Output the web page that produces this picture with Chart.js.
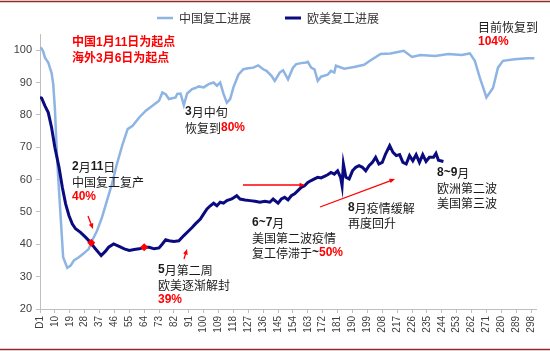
<!DOCTYPE html>
<html>
<head>
<meta charset="utf-8">
<script src="https://cdn.jsdelivr.net/npm/chart.js@4/dist/chart.umd.min.js"></script>
<style>
  html, body { margin: 0; padding: 0; background: #ffffff; }
  #wrap { width: 550px; height: 351px; position: relative; }
</style>
</head>
<body>
<div id="wrap"><canvas id="c" width="550" height="351"></canvas></div>
<script>
// ---- data ----
const seriesNames = ['中国复工进展', '欧美复工进展'];

const chinaDays = [1, 2, 3, 4, 6, 7, 8, 9, 10, 11.5, 13.5, 15, 17.5, 19.5, 21.5, 24.5, 27.5, 30.5, 32.5, 35.5,
  38.5, 41.5, 44.5, 47.5, 51, 54, 57, 61, 65, 69, 73, 75, 77, 79, 83, 84, 86, 88, 90, 93,
  95, 97, 100, 103, 106, 108, 110, 112, 114, 116, 118, 121, 124, 127, 130, 133, 136, 138, 141, 143,
  146, 148, 151, 154, 156, 159, 162, 163, 165, 167, 169, 171, 175, 177, 179, 180, 185, 191, 197, 201,
  207, 213, 221, 226, 231, 240, 248, 256, 261, 264, 267, 269, 271, 275, 278, 281, 288, 296, 300];
const chinaVals = [100.8, 100.5, 99.5, 97.7, 96.2, 94.5, 93.0, 89.5, 82.0, 65.0, 48.3, 36.0, 32.7, 33.4, 35.0, 36.0, 37.2, 38.6, 41.1, 44.2,
  48.3, 53.5, 58.6, 64.8, 71.0, 75.6, 76.6, 79.2, 81.3, 82.8, 84.4, 86.9, 86.4, 84.9, 85.4, 86.5, 86.6, 83.0, 86.6, 88.0,
  88.3, 88.8, 88.5, 89.5, 90.0, 89.0, 90.0, 86.5, 83.8, 84.9, 88.5, 92.4, 94.1, 94.4, 94.6, 95.3, 94.1, 93.6, 92.1, 90.5,
  93.1, 93.8, 91.0, 94.6, 95.7, 96.0, 96.2, 96.4, 94.6, 94.1, 90.5, 91.8, 92.4, 93.6, 93.1, 95.2, 94.3, 94.8, 95.5, 96.9,
  98.8, 99.0, 99.8, 97.9, 98.5, 98.2, 98.8, 98.5, 99.0, 96.7, 91.5, 88.5, 85.4, 88.3, 94.6, 96.7, 97.2, 97.5, 97.5];

const euDays = [1, 2, 4, 6, 8, 10, 12.5, 14.5, 16.5, 18.5, 20.5, 22.5, 25.5, 28.5, 31.5, 34.5, 38, 40.5, 42.5, 45.5,
  48.5, 52, 55, 58, 61, 64, 67, 70, 73, 75, 77, 79, 82, 85, 88, 91, 93, 95, 98, 100,
  102, 104, 106, 108, 110, 112, 114, 117, 120, 122, 125, 128, 131, 134, 137, 140, 142, 145, 147, 149,
  151, 153, 155, 157, 159, 161, 163, 165, 167, 169, 171, 173, 175, 177, 179, 181, 182.8, 183.7, 184.5, 186,
  188, 190, 192, 194, 196, 198, 200, 202, 204, 206, 208, 210, 212.5, 214.5, 216.5, 218.5, 220.5, 222.5, 224.5, 226.5,
  228.5, 230.5, 232.5, 234.5, 236.5, 239, 240.5, 242, 245];
const euVals = [85.4, 85.2, 82.8, 80.7, 76.1, 69.9, 63.8, 57.6, 52.5, 48.9, 46.3, 44.8, 43.7, 42.2, 40.6, 38.6, 36.5, 37.8, 39.1, 40.1,
  39.4, 38.6, 38.1, 38.4, 38.6, 39.1, 39.1, 38.6, 38.9, 40.1, 41.4, 41.1, 40.9, 41.1, 42.7, 44.2, 45.2, 46.3, 47.8, 49.4,
  50.9, 51.9, 52.7, 51.9, 53.0, 52.7, 53.5, 54.0, 55.0, 54.0, 53.7, 53.5, 53.3, 53.0, 53.3, 53.0, 54.0, 52.7, 54.0, 54.5,
  53.7, 55.0, 55.6, 56.6, 57.6, 58.1, 59.1, 59.7, 60.2, 60.7, 60.5, 61.0, 61.5, 62.2, 61.7, 62.7, 60.7, 58.1, 64.8, 60.7,
  60.2, 62.7, 63.8, 64.3, 63.8, 62.7, 64.3, 65.3, 66.9, 64.8, 65.3, 67.9, 70.5, 68.4, 67.4, 67.7, 65.3, 64.8, 67.4, 65.8,
  67.7, 65.3, 67.7, 65.6, 66.9, 66.9, 68.1, 66.0, 65.6];

const markDays = [32, 64];
const markVals = [40.5, 39.1];

const xTickVals = [1, 10, 19, 28, 37, 46, 55, 64, 73, 82, 91, 100, 109, 118, 127, 136, 145, 154, 163, 172,
  181, 190, 199, 208, 217, 226, 235, 244, 253, 262, 271, 280, 289, 298];
const yTickVals = [20, 30, 40, 50, 60, 70, 80, 90, 100];

// ---- styles ----
const C_CHINA = '#8DB4E2';
const C_EU = '#0B0B80';
const RED = '#FF0000';
const TXT = '#1A1A1A';
const AXIS = '#BFBFBF';
const CJK = '"Noto Sans CJK SC"';
const F_REG = '12px ' + CJK;
const F_NUM = 'bold 12px "Liberation Sans", ' + CJK;
const F_RED = 'bold 12px "Liberation Sans", ' + CJK;

function toXY(xs, ys) { return xs.map((d, i) => ({ x: d, y: ys[i] })); }

function rich(ctx, x, y, parts) {
  let cx = x;
  for (const [t, f, c] of parts) {
    ctx.font = f; ctx.fillStyle = c;
    ctx.fillText(t, cx, y);
    cx += ctx.measureText(t).width;
  }
}
function arrow(ctx, x1, y1, x2, y2) {
  const a = Math.atan2(y2 - y1, x2 - x1), h = 6;
  ctx.strokeStyle = RED; ctx.fillStyle = RED; ctx.lineWidth = 1.3;
  ctx.beginPath(); ctx.moveTo(x1, y1); ctx.lineTo(x2 - Math.cos(a) * 3, y2 - Math.sin(a) * 3); ctx.stroke();
  ctx.beginPath();
  ctx.moveTo(x2, y2);
  ctx.lineTo(x2 - h * Math.cos(a - 0.4), y2 - h * Math.sin(a - 0.4));
  ctx.lineTo(x2 - h * Math.cos(a + 0.4), y2 - h * Math.sin(a + 0.4));
  ctx.closePath(); ctx.fill();
}

const decor = {
  id: 'decor',
  beforeDraw(chart) {
    const ctx = chart.ctx;
    ctx.save(); ctx.fillStyle = '#ffffff'; ctx.fillRect(0, 0, chart.width, chart.height); ctx.restore();
  },
  afterDraw(chart) {
    const ctx = chart.ctx;
    ctx.save();
    // frame lines
    ctx.strokeStyle = '#8E2B2B'; ctx.lineWidth = 1.5;
    ctx.beginPath(); ctx.moveTo(0, 1.5); ctx.lineTo(chart.width, 1.5); ctx.stroke();
    ctx.beginPath(); ctx.moveTo(0, 349.5); ctx.lineTo(chart.width, 349.5); ctx.stroke();

    ctx.textBaseline = 'middle'; ctx.textAlign = 'left';
    rich(ctx, 72, 43, [['中国1月11日为起点', F_RED, RED]]);
    rich(ctx, 72, 59, [['海外3月6日为起点', F_RED, RED]]);

    rich(ctx, 185, 112, [['3', F_NUM, TXT], ['月中旬', F_REG, TXT]]);
    rich(ctx, 185, 128, [['恢复到', F_REG, TXT], ['80%', F_RED, RED]]);

    rich(ctx, 72, 167, [['2', F_NUM, TXT], ['月', F_REG, TXT], ['11', F_NUM, TXT], ['日', F_REG, TXT]]);
    rich(ctx, 72, 182, [['中国复工复产', F_REG, TXT]]);
    rich(ctx, 72, 197, [['40%', F_RED, RED]]);

    rich(ctx, 158, 270, [['5', F_NUM, TXT], ['月第二周', F_REG, TXT]]);
    rich(ctx, 158, 285, [['欧美逐渐解封', F_REG, TXT]]);
    rich(ctx, 158, 300, [['39%', F_RED, RED]]);

    rich(ctx, 252, 223, [['6~7', F_NUM, TXT], ['月', F_REG, TXT]]);
    rich(ctx, 252, 238, [['美国第二波疫情', F_REG, TXT]]);
    rich(ctx, 252, 253, [['复工停滞于', F_REG, TXT], ['~', F_NUM, TXT], ['50%', F_RED, RED]]);

    rich(ctx, 348, 208, [['8', F_NUM, TXT], ['月疫情缓解', F_REG, TXT]]);
    rich(ctx, 348, 223, [['再度回升', F_REG, TXT]]);

    rich(ctx, 437, 173, [['8~9', F_NUM, TXT], ['月', F_REG, TXT]]);
    rich(ctx, 437, 188, [['欧洲第二波', F_REG, TXT]]);
    rich(ctx, 437, 203, [['美国第三波', F_REG, TXT]]);

    rich(ctx, 478, 27, [['目前恢复到', F_REG, TXT]]);
    rich(ctx, 478, 42, [['104%', F_RED, RED]]);

    arrow(ctx, 88, 216, 93, 229);
    arrow(ctx, 184, 259, 187, 249);
    arrow(ctx, 243, 185, 305, 185);
    arrow(ctx, 320, 207, 395, 179);
    ctx.restore();
  }
};

new Chart(document.getElementById('c'), {
  type: 'line',
  data: {
    datasets: [
      { label: seriesNames[0], data: toXY(chinaDays, chinaVals), borderColor: C_CHINA, backgroundColor: C_CHINA,
        borderWidth: 2.5, pointRadius: 0, tension: 0, order: 2 },
      { label: seriesNames[1], data: toXY(euDays, euVals), borderColor: C_EU, backgroundColor: C_EU,
        borderWidth: 3, pointRadius: 0, tension: 0, order: 1 },
      { label: 'marks', data: toXY(markDays, markVals), showLine: false, pointStyle: 'rectRot',
        pointRadius: 4, backgroundColor: RED, borderColor: RED, borderWidth: 0, order: 0 }
    ]
  },
  options: {
    responsive: false,
    animation: false,
    events: [],
    layout: { padding: { top: -22, left: 0, right: 14, bottom: 0 } },
    plugins: {
      tooltip: { enabled: false },
      legend: {
        position: 'top',
        labels: {
          filter: (item) => item.datasetIndex < 2,
          sort: (a, b) => a.datasetIndex - b.datasetIndex,
          usePointStyle: true,
          pointStyle: 'line',
          pointStyleWidth: 16,
          boxHeight: 10,
          padding: 34,
          color: '#333333',
          font: { family: CJK, size: 12 }
        }
      }
    },
    scales: {
      x: {
        type: 'linear', min: 1, max: 301,
        afterBuildTicks: (s) => { s.ticks = xTickVals.map(v => ({ value: v })); },
        afterFit: (s) => { s.height = 42; },
        ticks: {
          autoSkip: false, maxRotation: 90, minRotation: 90, padding: 3,
          callback: (v) => (v === 1 ? 'D1' : String(v)),
          color: '#404040', font: { family: '"Liberation Sans"', size: 10 }
        },
        grid: { drawOnChartArea: false, drawTicks: true, tickLength: 4, color: AXIS },
        border: { color: AXIS, width: 1 }
      },
      y: {
        min: 20, max: 105,
        afterBuildTicks: (s) => { s.ticks = yTickVals.map(v => ({ value: v })); },
        afterFit: (s) => { s.width = 40; },
        ticks: { color: '#404040', font: { family: '"Liberation Sans"', size: 11 }, padding: 4 },
        grid: { drawOnChartArea: false, drawTicks: true, tickLength: 4, color: AXIS },
        border: { color: AXIS, width: 1 }
      }
    }
  },
  plugins: [decor]
});
</script>
</body>
</html>
